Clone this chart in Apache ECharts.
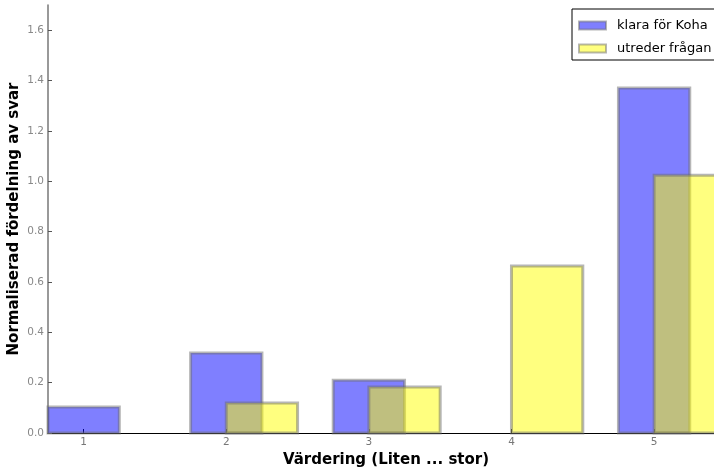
<!DOCTYPE html>
<html>
<head>
<meta charset="utf-8">
<script src="https://cdn.jsdelivr.net/npm/echarts@6/dist/echarts.min.js"></script>
<style>html,body{margin:0;padding:0;background:#fff}#c{width:714px;height:469px}</style>
</head>
<body>
<div id="c"></div>
<script>
const categories = [1, 2, 3, 4, 5];
const klara = [0.103, 0.318, 0.21, 0, 1.37];
const utreder = [0, 0.119, 0.183, 0.663, 1.024];
const yTicks = [0, 0.2, 0.4, 0.6, 0.8, 1.0, 1.2, 1.4, 1.6];
const seriesNames = ['klara för Koha', 'utreder frågan'];

const chart = echarts.init(document.getElementById('c'), null, {renderer: 'canvas'});

function makeRender(offset, fill) {
  return function (params, api) {
    const x = api.value(0);
    const v = api.value(1);
    if (!v) return null;
    const p0 = api.coord([x + offset, 0]);
    const p1 = api.coord([x + offset + 0.5, v]);
    return {
      type: 'rect',
      shape: {x: p0[0], y: p1[1], width: p1[0] - p0[0], height: p0[1] - p1[1]},
      style: {fill: fill, stroke: 'rgba(110,110,110,0.5)', lineWidth: 3}
    };
  };
}

const option = {
  animation: false,
  textStyle: {fontFamily: 'DejaVu Sans'},
  grid: {left: 48, right: 0, top: 5, bottom: 36, containLabel: false, outerBoundsMode: 'none'},
  legend: {
    left: 572, top: 9,
    orient: 'vertical',
    backgroundColor: '#fff',
    borderColor: '#000', borderWidth: 1, borderRadius: 0,
    padding: [10, 20, 5, 6],
    itemWidth: 27, itemHeight: 8, itemGap: 10,
    icon: 'rect',
    textStyle: {fontSize: 13, color: '#000', fontFamily: 'DejaVu Sans', padding: [0, 0, 0, 6]},
    data: seriesNames
  },
  xAxis: {
    type: 'value', min: 0.75, max: 5.42,
    name: 'Värdering (Liten ... stor)', nameLocation: 'middle', nameGap: 19,
    nameTextStyle: {fontSize: 15, fontWeight: 'bold', color: '#000', fontFamily: 'DejaVu Sans', padding: [0, 0, 0, 10]},
    axisLine: {lineStyle: {color: '#000', width: 1.2}},
    axisTick: {inside: true, length: 4, lineStyle: {color: '#000'}, customValues: categories},
    axisLabel: {fontSize: 10.5, color: '#777', margin: 4, customValues: categories, formatter: v => String(v)},
    splitLine: {show: false}
  },
  yAxis: {
    type: 'value', min: 0, max: 1.7,
    name: 'Normaliserad fördelning av svar', nameLocation: 'middle', nameGap: 26,
    nameMoveOverlap: false,
    nameTextStyle: {fontSize: 15, fontWeight: 'bold', color: '#000', fontFamily: 'DejaVu Sans'},
    axisLine: {show: true, lineStyle: {color: '#777', width: 1.5}},
    axisTick: {inside: true, length: 4, lineStyle: {color: '#555'}, customValues: yTicks},
    axisLabel: {fontSize: 10.5, color: '#888', margin: 4, customValues: yTicks, formatter: v => v.toFixed(1)},
    splitLine: {show: false}
  },
  series: [
    {
      name: seriesNames[0], type: 'custom',
      itemStyle: {color: 'rgba(0,0,255,0.5)', borderColor: 'rgba(110,110,110,0.5)', borderWidth: 2},
      renderItem: makeRender(-0.25, 'rgba(0,0,255,0.5)'),
      encode: {x: 0, y: 1},
      data: categories.map((c, i) => [c, klara[i]])
    },
    {
      name: seriesNames[1], type: 'custom',
      itemStyle: {color: 'rgba(255,255,0,0.5)', borderColor: 'rgba(110,110,110,0.5)', borderWidth: 2},
      renderItem: makeRender(0, 'rgba(255,255,0,0.5)'),
      encode: {x: 0, y: 1},
      data: categories.map((c, i) => [c, utreder[i]])
    }
  ]
};
chart.setOption(option);
</script>
</body>
</html>
